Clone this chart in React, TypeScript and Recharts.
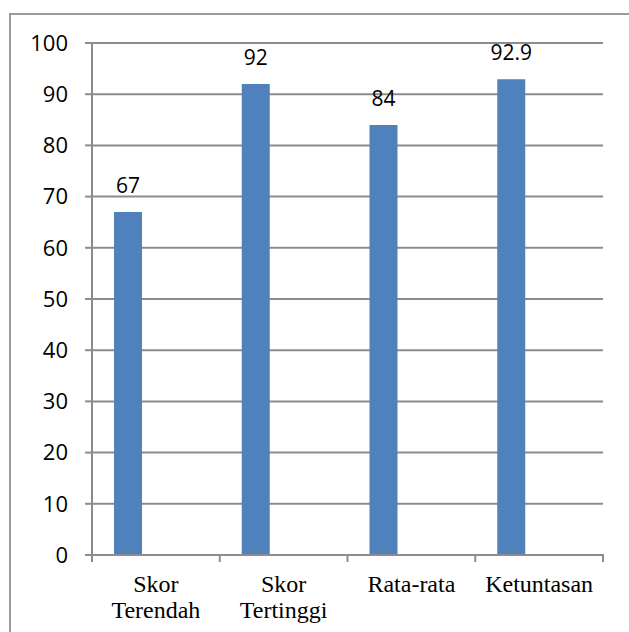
import { BarChart, Bar, XAxis, YAxis, CartesianGrid, LabelList } from "recharts"

const categories = ["Skor Terendah", "Skor Tertinggi", "Rata-rata", "Ketuntasan"]
const nilai = [67, 92, 84, 92.9]
const yTicks = [0, 10, 20, 30, 40, 50, 60, 70, 80, 90, 100]

const chartData = categories.map((name, i) => ({ name, nilai: nilai[i], kosong: null as number | null }))

const GRID = "#8c8c8c"
const BAR = "#4f81bd"

// x-axis label, split on the space into two lines, plus the tick mark on the left edge of each category
const CategoryTick = (props: any) => {
    const { x, y, payload, width, visibleTicksCount, index } = props
    const lines = String(payload.value).split(" ")
    const band = width / visibleTicksCount
    const left = x - band / 2
    return (
        <g>
            <line x1={left} x2={left} y1={y - 1} y2={y + 7} stroke={GRID} strokeWidth={2} />
            {index === visibleTicksCount - 1 && (
                <line x1={left + band} x2={left + band} y1={y - 1} y2={y + 7} stroke={GRID} strokeWidth={2} />
            )}
            <text x={x} y={y} textAnchor="middle" fontFamily="'Liberation Serif', 'Times New Roman', serif" fontSize={24} fill="#000">
                {lines.map((line, i) => (
                    <tspan key={i} x={x} dy={i === 0 ? 37 : 26}>{line}</tspan>
                ))}
            </text>
        </g>
    )
}

export default function App() {
    return (
        <div style={{ position: "fixed", left: 0, top: 0, width: 629, height: 632, overflow: "hidden", background: "#fff" }}>
            <div style={{ position: "absolute", left: 9, top: 13, width: 700, height: 700, border: "2px solid #9a9a9a" }} />
            <div style={{ position: "absolute", left: 0, top: 0 }}>
                <BarChart
                    width={629}
                    height={632}
                    data={chartData}
                    margin={{ top: 43, right: 26, bottom: 0, left: 0 }}
                    barSize={28}
                    barGap={28}
                >
                    <CartesianGrid vertical={false} stroke={GRID} strokeWidth={2} />
                    <XAxis
                        dataKey="name"
                        height={77}
                        axisLine={{ stroke: GRID, strokeWidth: 2 }}
                        tickLine={false}
                        tickSize={0}
                        tickMargin={0}
                        interval={0}
                        tick={<CategoryTick />}
                    />
                    <YAxis
                        width={92}
                        domain={[0, 100]}
                        ticks={yTicks}
                        interval={0}
                        axisLine={{ stroke: GRID, strokeWidth: 2 }}
                        tickLine={{ stroke: GRID, strokeWidth: 2 }}
                        tickSize={7}
                        tickMargin={17}
                        tick={{ fill: "#000", fontSize: 22, fontFamily: "'Open Sans', sans-serif" }}
                    />
                    <Bar dataKey="nilai" fill={BAR} isAnimationActive={false}>
                        <LabelList dataKey="nilai" position="top" offset={19} fill="#000" fontSize={21} fontFamily="'Open Sans', sans-serif" />
                    </Bar>
                    <Bar dataKey="kosong" fill={BAR} isAnimationActive={false} />
                </BarChart>
            </div>
        </div>
    )
}
